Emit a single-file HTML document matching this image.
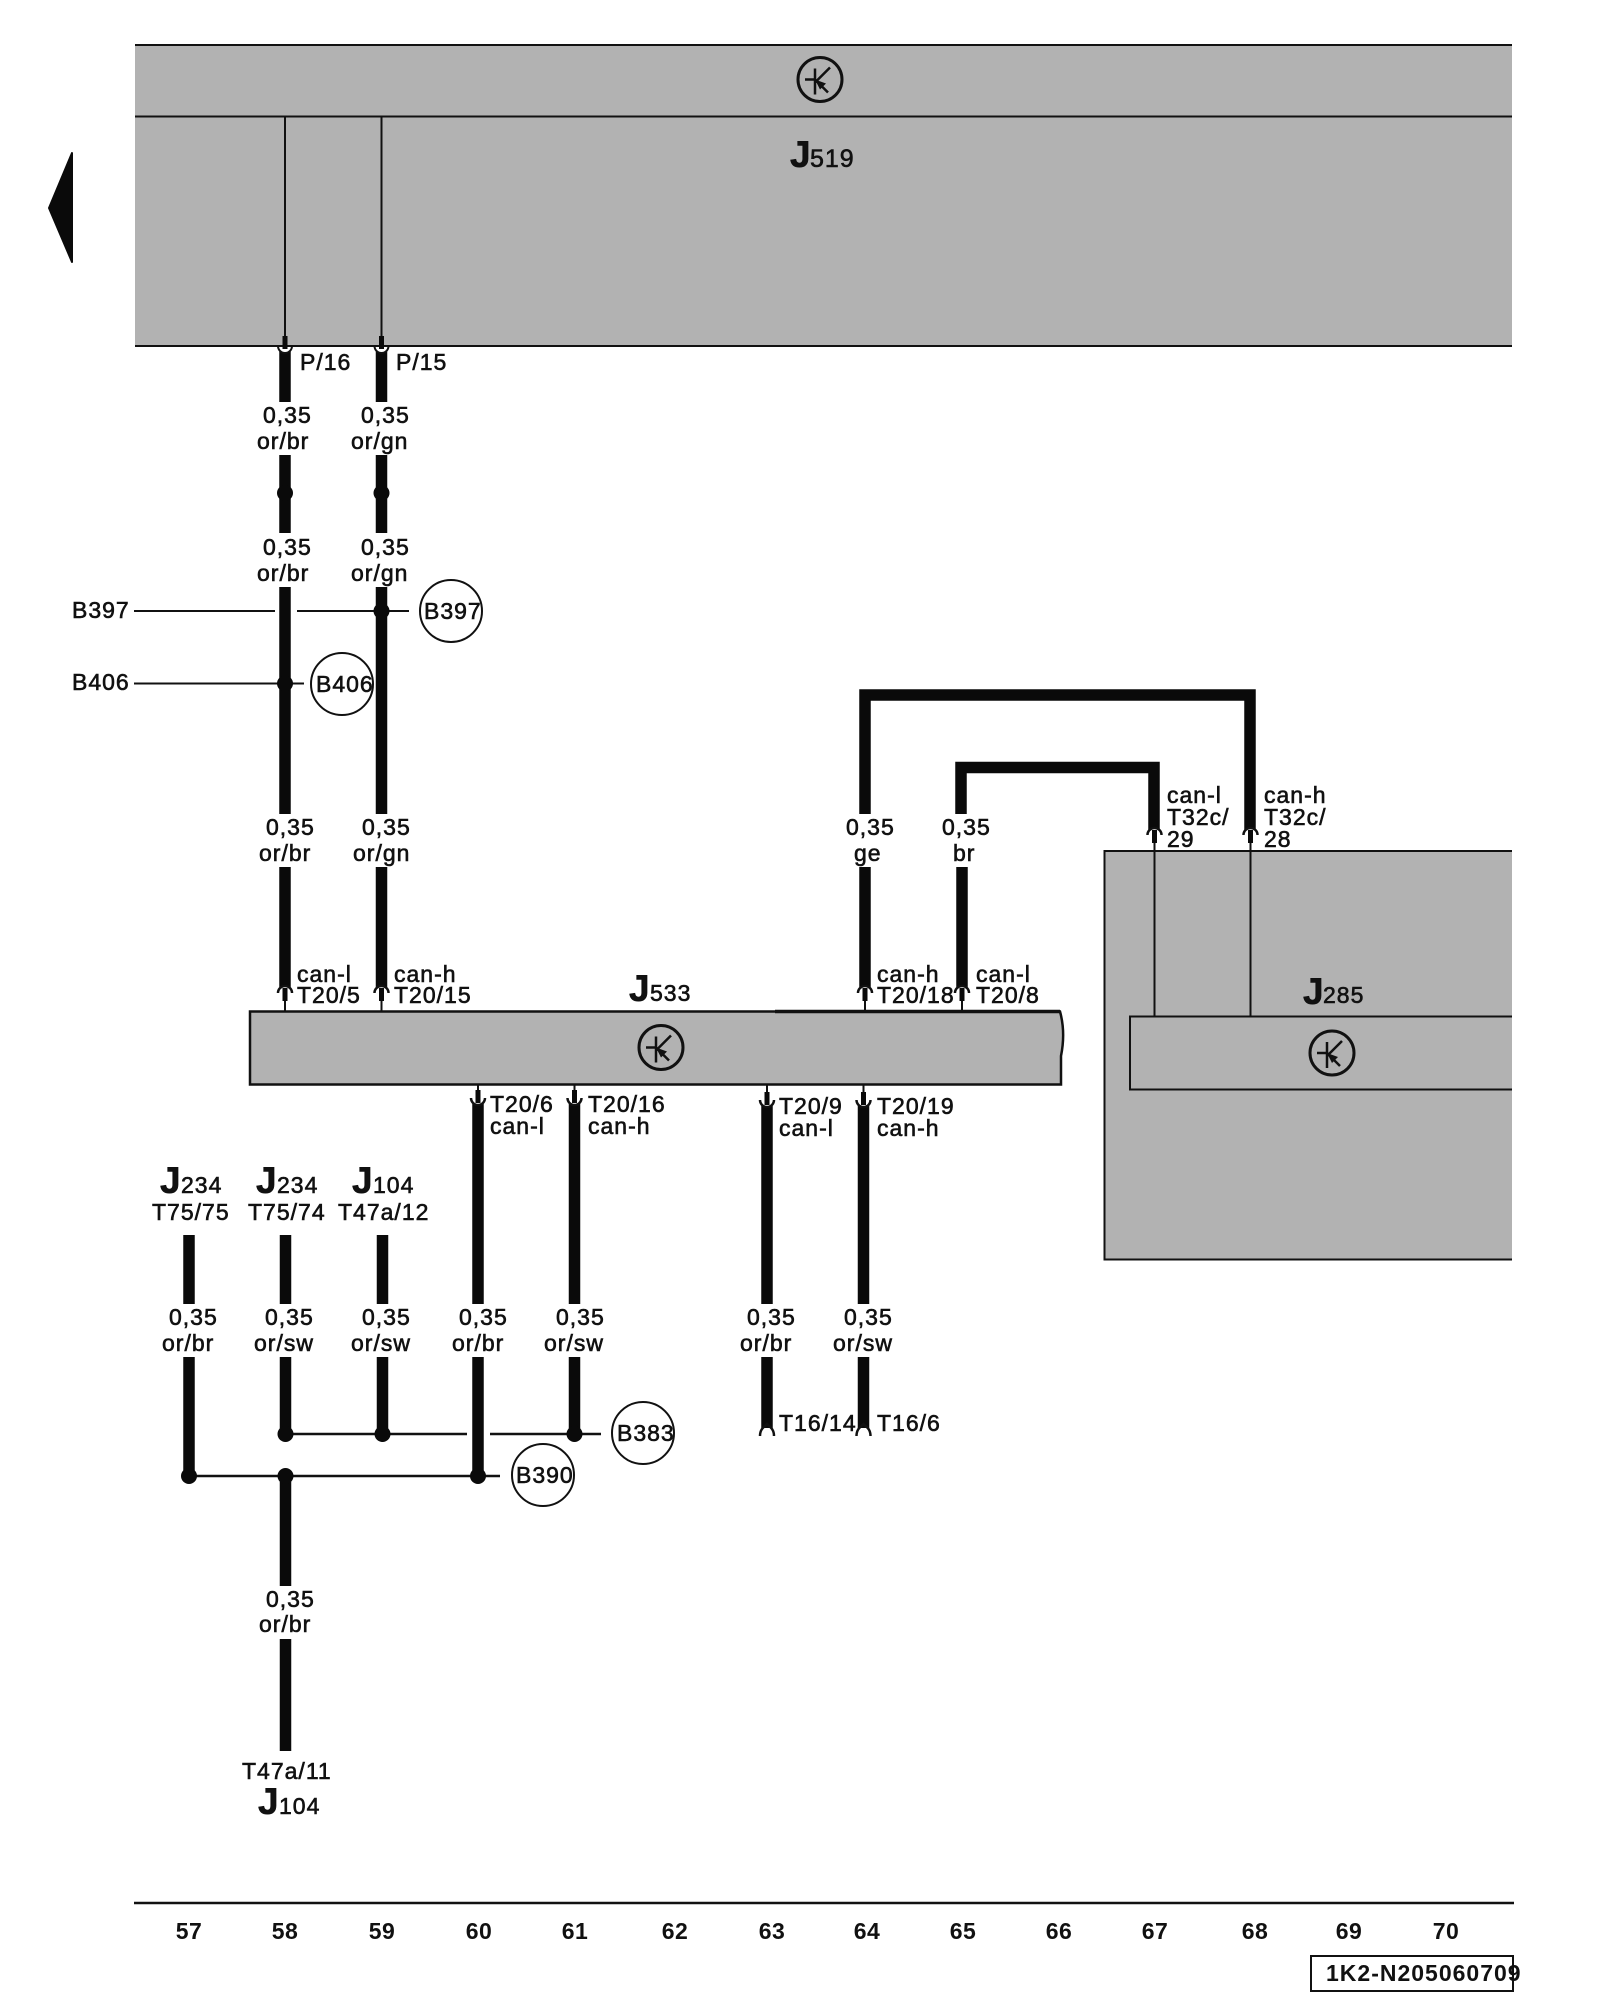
<!DOCTYPE html>
<html><head><meta charset="utf-8"><style>
html,body{margin:0;padding:0;background:#fff}
svg{display:block}
text{font-family:"Liberation Sans",sans-serif;font-size:23px;letter-spacing:1px;fill:#111;stroke:#111;stroke-width:.6px}
.j{font-size:37px;font-weight:bold;letter-spacing:0}
.n{text-anchor:middle;font-weight:bold;letter-spacing:.5px;stroke:none}
.w{stroke:#0a0a0a;stroke-width:11.5;fill:none}
.t{stroke:#111;stroke-width:2;fill:none}
.d{fill:#0a0a0a}
</style></head><body>
<svg xmlns="http://www.w3.org/2000/svg" width="1600" height="2000" viewBox="0 0 1600 2000">
<defs>
<g id="sym" fill="none" stroke="#111">
<circle r="22" stroke-width="3"/>
<path d="M-15 0H-5M-5-11V15M-5 3L10-12M-5 0L8 13" stroke-width="2.5"/>
<path d="M-5 0L6 4L0 10Z" fill="#111" stroke="none"/>
</g>
<g id="up"><path d="M-7 8A7 7 0 0 1 7 8" fill="#fff" stroke="#111" stroke-width="2.500"/><rect x="-2.5" y="3" width="5" height="13" fill="#0a0a0a"/></g>
<g id="dn"><path d="M-7-8A7 7 0 0 0 7-8" fill="#fff" stroke="#111" stroke-width="2.500"/><rect x="-2.5" y="-16" width="5" height="13" fill="#0a0a0a"/></g>
</defs>

<!-- left arrow -->
<path d="M49 208L72 153V262Z" fill="#0a0a0a" stroke="#0a0a0a" stroke-width="2" stroke-linejoin="round"/>

<!-- J519 -->
<rect x="135" y="45" width="1377" height="301" fill="#b2b2b2"/>
<path d="M135 45H1512M135 116.500H1512M135 346H1512" class="t"/>
<path d="M285 116V340M381.500 116V340" class="t"/>
<use href="#sym" x="820" y="79.500"/>
<text x="790" y="167" class="j">J</text><text x="810" y="167" style="font-size:25px">519</text>

<!-- J285 -->
<rect x="1104" y="851" width="408" height="408" fill="#b2b2b2"/>
<path d="M1512 851H1104.500V1259.500H1512" class="t"/>
<path d="M1512 1016.500H1130V1089.500H1512" class="t"/>
<path d="M1154.500 835V1016M1250.500 835V1016" class="t"/>
<use href="#sym" x="1332" y="1053"/>
<text x="1303" y="1004" class="j">J</text><text x="1323" y="1003">285</text>

<!-- J533 -->
<path d="M250 1011.500H1060C1064 1026 1064 1041 1061 1056L1061 1084.500H250Z" fill="#b2b2b2" stroke="#111" stroke-width="2.500"/>
<path d="M775 1011.500H1060" stroke="#111" stroke-width="3.500"/>
<use href="#sym" x="661" y="1047.500"/>
<text x="629" y="1001" class="j">J</text><text x="650" y="1001">533</text>

<!-- upper wires -->
<path d="M285 350V402M285 455V533M285 587V814M285 867V987M381.500 350V402M381.500 455V533M381.500 587V814M381.500 867V987" class="w"/>
<circle cx="285" cy="493" r="8" class="d"/><circle cx="381.500" cy="493" r="8" class="d"/>
<path d="M278 346A7 7 0 0 0 292 346Z" fill="#fff" stroke="#111" stroke-width="2"/><path d="M374.500 346A7 7 0 0 0 388.500 346Z" fill="#fff" stroke="#111" stroke-width="2"/>
<rect x="282.500" y="336" width="5" height="13" class="d"/><rect x="379" y="336" width="5" height="13" class="d"/>

<!-- B397, B406 -->
<path d="M134 611H275M297 611H409M134 683.500H304" class="t"/>
<circle cx="381.500" cy="611" r="8" class="d"/><circle cx="285" cy="683.500" r="8" class="d"/>
<circle cx="451" cy="611" r="31" fill="none" stroke="#111" stroke-width="2"/>
<circle cx="342" cy="684" r="31" fill="none" stroke="#111" stroke-width="2"/>

<text x="300" y="370">P/16</text><text x="396" y="370">P/15</text>
<text x="263" y="423">0,35</text><text x="361" y="423">0,35</text>
<text x="257" y="449">or/br</text><text x="351" y="449">or/gn</text>
<text x="263" y="555">0,35</text><text x="361" y="555">0,35</text>
<text x="257" y="581">or/br</text><text x="351" y="581">or/gn</text>
<text x="72" y="618">B397</text><text x="424" y="619">B397</text>
<text x="72" y="690">B406</text><text x="316" y="692">B406</text>
<text x="266" y="835">0,35</text><text x="362" y="835">0,35</text>
<text x="259" y="861">or/br</text><text x="353" y="861">or/gn</text>

<!-- CAN bridge wires -->
<path d="M865 814V695H1250V830M865 867V987M961 814V767.500H1154V830M962 867V987" class="w"/>

<!-- J533 top connectors -->
<path d="M285 1000V1011M381.500 1000V1011M865 1000V1011M962 1000V1011" class="t"/>
<use href="#up" x="285" y="985"/><use href="#up" x="381.500" y="985"/><use href="#up" x="865" y="985"/><use href="#up" x="962" y="985"/>
<text x="297" y="982">can-l</text><text x="297" y="1003">T20/5</text>
<text x="394" y="982">can-h</text><text x="394" y="1003">T20/15</text>
<text x="877" y="982">can-h</text><text x="877" y="1003">T20/18</text>
<text x="976" y="982">can-l</text><text x="976" y="1003">T20/8</text>

<text x="846" y="835">0,35</text><text x="854" y="861">ge</text>
<text x="942" y="835">0,35</text><text x="953" y="861">br</text>
<use href="#up" x="1154.500" y="827"/><use href="#up" x="1250.500" y="827"/>
<text x="1167" y="803">can-l</text><text x="1167" y="825">T32c/</text><text x="1167" y="847">29</text>
<text x="1264" y="803">can-h</text><text x="1264" y="825">T32c/</text><text x="1264" y="847">28</text>

<!-- J533 bottom -->
<path d="M478 1084V1096M574.500 1084V1096M767 1084V1098M863.500 1084V1098" class="t"/>
<path d="M478 1104V1304M478 1357V1476M574.500 1104V1304M574.500 1357V1434M767 1106V1304M767 1357V1428M863.500 1106V1304M863.500 1357V1428" class="w"/>
<use href="#dn" x="478" y="1106"/><use href="#dn" x="574.500" y="1106"/><use href="#dn" x="767" y="1108"/><use href="#dn" x="863.500" y="1108"/>
<path d="M760 1436C760 1429 764 1427 767 1424C770 1427 774 1429 774 1436M856.500 1436C856.500 1429 860.500 1427 863.500 1424C866.500 1427 870.500 1429 870.500 1436" fill="none" stroke="#111" stroke-width="2.500"/>
<text x="490" y="1112">T20/6</text><text x="490" y="1134">can-l</text>
<text x="588" y="1112">T20/16</text><text x="588" y="1134">can-h</text>
<text x="779" y="1114">T20/9</text><text x="779" y="1136">can-l</text>
<text x="877" y="1114">T20/19</text><text x="877" y="1136">can-h</text>
<text x="779" y="1431">T16/14</text><text x="877" y="1431">T16/6</text>

<!-- lower left -->
<path d="M189 1235V1304M189 1357V1476M285.500 1235V1304M285.500 1357V1434M285.500 1476V1586M285.500 1639V1751M382.500 1235V1304M382.500 1357V1434" class="w"/>
<path d="M285.500 1434H467M490 1434H601M189 1476H500" stroke="#111" stroke-width="2.500" fill="none"/>
<g class="d"><circle cx="285.500" cy="1434" r="8"/><circle cx="382.500" cy="1434" r="8"/><circle cx="574.500" cy="1434" r="8"/><circle cx="189" cy="1476" r="8"/><circle cx="285.500" cy="1476" r="8"/><circle cx="478" cy="1476" r="8"/></g>
<circle cx="643" cy="1433" r="31" fill="#fff" stroke="#111" stroke-width="2"/>
<circle cx="543" cy="1475" r="31" fill="#fff" stroke="#111" stroke-width="2"/>
<text x="617" y="1441">B383</text><text x="516" y="1483">B390</text>

<text x="160" y="1193" class="j">J</text><text x="181" y="1193">234</text>
<text x="256" y="1193" class="j">J</text><text x="277" y="1193">234</text>
<text x="352" y="1193" class="j">J</text><text x="373" y="1193">104</text>
<text x="152" y="1220">T75/75</text><text x="248" y="1220">T75/74</text><text x="338" y="1220">T47a/12</text>
<text x="169" y="1325">0,35</text><text x="265" y="1325">0,35</text><text x="362" y="1325">0,35</text><text x="459" y="1325">0,35</text><text x="556" y="1325">0,35</text><text x="747" y="1325">0,35</text><text x="844" y="1325">0,35</text>
<text x="162" y="1351">or/br</text><text x="254" y="1351">or/sw</text><text x="351" y="1351">or/sw</text><text x="452" y="1351">or/br</text><text x="544" y="1351">or/sw</text><text x="740" y="1351">or/br</text><text x="833" y="1351">or/sw</text>
<text x="266" y="1607">0,35</text><text x="259" y="1632">or/br</text>
<text x="242" y="1779">T47a/11</text>
<text x="258" y="1814" class="j">J</text><text x="279" y="1814">104</text>

<!-- footer -->
<path d="M134 1903H1514" stroke="#111" stroke-width="2.500"/>
<g>
<text x="189" y="1939" class="n">57</text><text x="285" y="1939" class="n">58</text><text x="382" y="1939" class="n">59</text><text x="479" y="1939" class="n">60</text><text x="575" y="1939" class="n">61</text><text x="675" y="1939" class="n">62</text><text x="772" y="1939" class="n">63</text><text x="867" y="1939" class="n">64</text><text x="963" y="1939" class="n">65</text><text x="1059" y="1939" class="n">66</text><text x="1155" y="1939" class="n">67</text><text x="1255" y="1939" class="n">68</text><text x="1349" y="1939" class="n">69</text><text x="1446" y="1939" class="n">70</text>
</g>
<rect x="1311" y="1956" width="202" height="35" fill="none" stroke="#111" stroke-width="2"/>
<text x="1326" y="1981" style="font-weight:bold;stroke:none;letter-spacing:1px;font-size:23px">1K2-N205060709</text>
</svg>
</body></html>
